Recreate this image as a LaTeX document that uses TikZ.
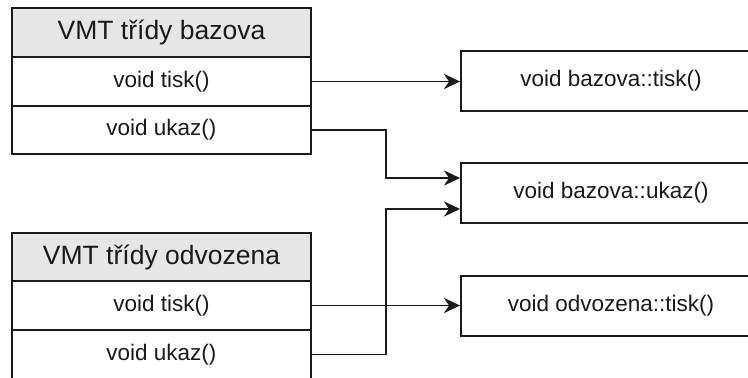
\documentclass[tikz,border=0pt]{standalone}
\usepackage{fontspec}
\setmainfont{Liberation Sans}
\usetikzlibrary{arrows.meta}
\definecolor{headfill}{HTML}{E6E6E6}
\definecolor{ink}{HTML}{1A1A1A}
\tikzset{
  cell/.style={draw=ink, line width=1.9pt, rectangle, minimum width=299pt,
    inner sep=0pt, text=ink, font=\fontsize{22.5}{27}\selectfont},
  headcell/.style={cell, fill=headfill, font=\fontsize{26.5}{31}\selectfont},
  target/.style={draw=ink, line width=1.9pt, rectangle, minimum width=300pt,
    minimum height=60pt, inner sep=0pt, text=ink, font=\fontsize{22.5}{27}\selectfont},
  link/.style={draw=ink, line width=1.9pt,
    -{Stealth[length=16pt, width=15pt, inset=5pt]}},
}
\begin{document}
\begin{tikzpicture}[x=1pt, y=-1pt]
  \useasboundingbox (0,0) rectangle (748,378);
  \clip (0,0) rectangle (748,378);
  \fill[white] (0,0) rectangle (748,378);

  % vtable of the base class
  \node[headcell, minimum height=49pt] (bh) at (161.5,32.5) {VMT třídy bazova};
  \node[cell, minimum height=49pt] (bt) at (161.5,81.5) {void tisk()};
  \node[cell, minimum height=48pt] (bu) at (161.5,130) {void ukaz()};

  % vtable of the derived class
  \node[headcell, minimum height=48pt] (oh) at (161.5,257) {VMT třídy odvozena};
  \node[cell, minimum height=49pt] (ot) at (161.5,305.5) {void tisk()};
  \node[cell, minimum height=49pt] (ou) at (161.5,354.5) {void ukaz()};

  % method implementations
  \node[target] (f1) at (611,81) {void bazova::tisk()};
  \node[target] (f2) at (611,193) {void bazova::ukaz()};
  \node[target] (f3) at (611,306) {void odvozena::tisk()};

  % entry points on the shared implementation
  \coordinate (f2a) at (f2.west |- 0,178);
  \coordinate (f2b) at (f2.west |- 0,209);

  % vtable entries pointing at their implementations
  \draw[link] (bt.east) -- (f1.west |- bt.east);
  \draw[link] (bu.east) -- (386,130) -- (386,178) -- (f2a);
  \draw[link] (ou.east) -- (386,354.5) -- (386,209) -- (f2b);
  \draw[link] (ot.east) -- (f3.west |- ot.east);
\end{tikzpicture}
\end{document}
